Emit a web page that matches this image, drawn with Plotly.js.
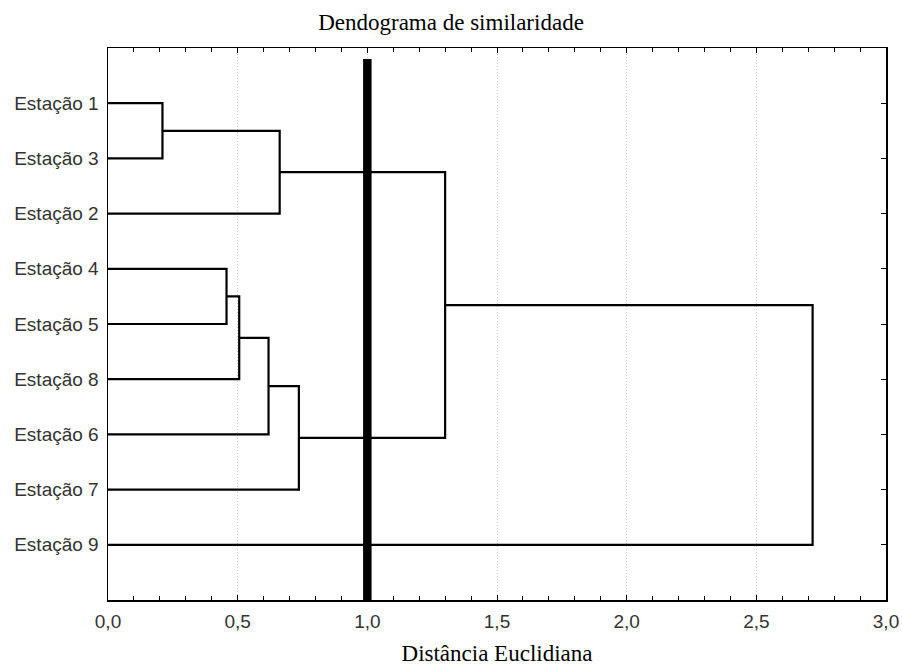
<!DOCTYPE html>
<html>
<head>
<meta charset="utf-8">
<script src="https://cdn.plot.ly/plotly-3.0.1.min.js"></script>
<style>html,body{margin:0;padding:0;background:#fff;}#chart{width:902px;height:666px;}</style>
</head>
<body>
<div id="chart"></div>
<script>
// Leaf order (top to bottom)
const leaves = ['Estação 1','Estação 3','Estação 2','Estação 4','Estação 5','Estação 8','Estação 6','Estação 7','Estação 9'];
// Merge steps: node ids 0..8 are leaves, each merge creates node 9, 10, ...
const mergeA      = [0, 9, 3, 11, 12, 13, 10, 15];
const mergeB      = [1, 2, 4, 5,  6,  7,  14, 8];
const mergeHeight = [0.21, 0.662, 0.457, 0.506, 0.619, 0.736, 1.30, 2.717];
// Cut line
const cutDistance = 1.0;
const xTickVals = [0, 0.5, 1.0, 1.5, 2.0, 2.5, 3.0];

// Build link paths from merges
const nodeY = leaves.map((_, i) => i + 1);
const nodeX = leaves.map(() => 0);
const lx = [], ly = [];
for (let k = 0; k < mergeA.length; k++) {
  const a = mergeA[k], b = mergeB[k], h = mergeHeight[k];
  lx.push(nodeX[a], h, h, nodeX[b], null);
  ly.push(nodeY[a], nodeY[a], nodeY[b], nodeY[b], null);
  nodeY.push((nodeY[a] + nodeY[b]) / 2);
  nodeX.push(h);
}

const serif = 'Liberation Serif, Times New Roman, serif';
const sans = 'Liberation Sans, Arial, sans-serif';

const traces = [
  {x: lx, y: ly, type: 'scatter', mode: 'lines', line: {color: '#000', width: 2.2}, hoverinfo: 'skip', showlegend: false},
  {x: [cutDistance, cutDistance], y: [0.2, 10], type: 'scatter', mode: 'lines', line: {color: '#000', width: 8.5}, hoverinfo: 'skip', showlegend: false}
];

const layout = {
  width: 902, height: 666,
  paper_bgcolor: '#fff', plot_bgcolor: '#fff',
  separators: ',.',
  margin: {l: 108, r: 16, t: 48, b: 66},
  showlegend: false,
  title: {text: 'Dendograma de similaridade', x: 0.5, xref: 'container', xanchor: 'center', y: 1 - 22/666, yanchor: 'middle', font: {family: serif, size: 23, color: '#000'}},
  xaxis: {
    range: [0, 3], tickvals: xTickVals, tickformat: '.1f',
    showline: true, linecolor: '#000', linewidth: 1.5, mirror: 'ticks',
    ticks: 'inside', ticklen: 5, tickcolor: '#000', tickwidth: 1,
    minor: {dtick: 0.1, ticks: 'inside', ticklen: 4, tickcolor: '#000', tickwidth: 1, showgrid: false},
    showgrid: true, gridcolor: '#cfcfcf', griddash: '1px,2px', gridwidth: 1,
    zeroline: false, ticklabelstandoff: 4,
    tickfont: {family: sans, size: 19, color: '#333'},
    title: {text: 'Distância Euclidiana', font: {family: serif, size: 23, color: '#000'}, standoff: 14}
  },
  yaxis: {
    range: [10, 0], tickvals: leaves.map((_, i) => i + 1), ticktext: leaves,
    showline: true, linecolor: '#000', linewidth: 1.5, mirror: 'ticks',
    ticks: 'inside', ticklen: 5, tickcolor: '#000', tickwidth: 1,
    showgrid: false, zeroline: false, ticklabelstandoff: 4,
    tickfont: {family: sans, size: 19, color: '#333'}
  }
};

Plotly.newPlot('chart', traces, layout, {displayModeBar: false, staticPlot: true});
</script>
</body>
</html>
